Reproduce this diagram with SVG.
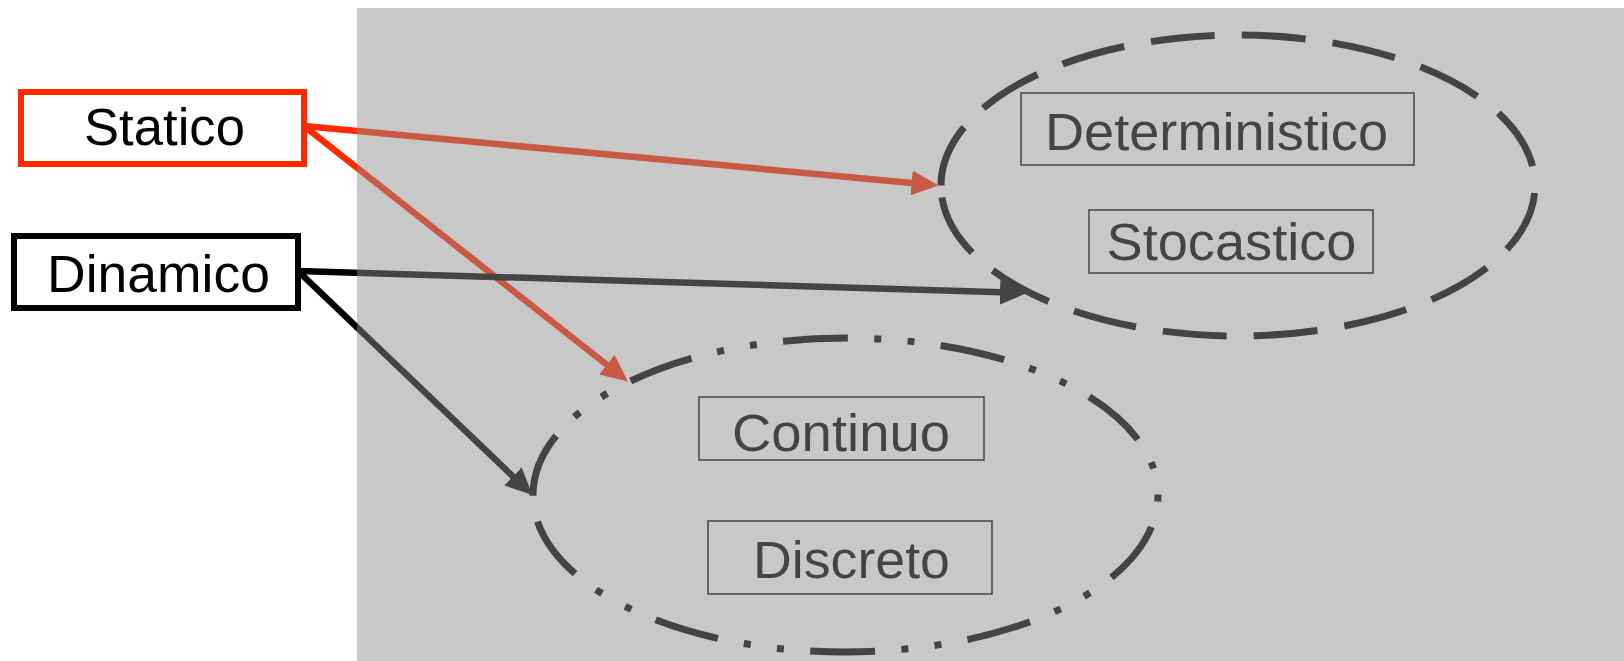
<svg xmlns="http://www.w3.org/2000/svg" width="1624" height="661" viewBox="0 0 1624 661">
  <style>
    .label { font-family: "Liberation Sans", Arial, sans-serif; font-size: 51px; text-anchor: middle; fill: #000; }
    .outer-box { fill: #fff; stroke-width: 6; }
    .inner-box { fill: none; stroke: #000; stroke-width: 1.5; }
    .group-ring { fill: none; stroke: #000; stroke-width: 7; stroke-linecap: butt; }
    .link { fill: none; stroke-width: 6.5; }
    .link-red { stroke: #ff2a00; }
    .link-black { stroke: #000; }
  </style>
  <defs>
    <marker id="head-red" markerUnits="userSpaceOnUse" markerWidth="27" markerHeight="25" refX="19" refY="12.5" orient="auto">
      <path d="M0,0 L27,12.5 L0,25 Z" fill="#ff2a00"/>
    </marker>
    <marker id="head-black" markerUnits="userSpaceOnUse" markerWidth="27" markerHeight="25" refX="19" refY="12.5" orient="auto">
      <path d="M0,0 L27,12.5 L0,25 Z" fill="#000"/>
    </marker>
  </defs>

  <rect x="0" y="0" width="1624" height="661" fill="#fff"/>

  <!-- connectors -->
  <g id="connectors">
    <line class="link link-red" x1="304" y1="126" x2="930.5" y2="184.7" marker-end="url(#head-red)"/>
    <line class="link link-red" x1="304" y1="126" x2="621.7" y2="376.5" marker-end="url(#head-red)"/>
    <line class="link link-black" x1="298" y1="271" x2="1019" y2="292.8" marker-end="url(#head-black)"/>
    <line class="link link-black" x1="298" y1="271" x2="526.7" y2="489.5" marker-end="url(#head-black)"/>
  </g>

  <!-- source nodes -->
  <g id="node-statico">
    <rect class="outer-box" x="21" y="92" width="283" height="72" stroke="#ff2a00"/>
    <text class="label" x="164.5" y="145" textLength="161" lengthAdjust="spacingAndGlyphs">Statico</text>
  </g>
  <g id="node-dinamico">
    <rect class="outer-box" x="14" y="236" width="284" height="72" stroke="#000"/>
    <text class="label" x="158.5" y="292" textLength="223" lengthAdjust="spacingAndGlyphs">Dinamico</text>
  </g>

  <!-- dashed group: Deterministico / Stocastico -->
  <g id="group-determinism">
    <path class="group-ring" pathLength="1444" stroke-dasharray="64 27.2"
          d="M941,185.5 A297,150.5 0 0 1 1535,185.5 A297,150.5 0 0 1 941,185.5"/>
  </g>
  <g id="node-deterministico">
    <rect class="inner-box" x="1021" y="93" width="393" height="72"/>
    <text class="label" x="1216.5" y="150" textLength="343" lengthAdjust="spacingAndGlyphs">Deterministico</text>
  </g>
  <g id="node-stocastico">
    <rect class="inner-box" x="1089" y="210" width="284" height="63"/>
    <text class="label" x="1231.5" y="260" textLength="250" lengthAdjust="spacingAndGlyphs">Stocastico</text>
  </g>

  <!-- dash-dot-dot group: Continuo / Discreto -->
  <g id="group-continuity">
    <path class="group-ring" pathLength="1516" stroke-dasharray="65 26.4 7 26.4 7 26.4"
          d="M533,495 A312.5,157 0 0 1 1158,495 A312.5,157 0 0 1 533,495"/>
  </g>
  <g id="node-continuo">
    <rect class="inner-box" x="699" y="397" width="285" height="63"/>
    <text class="label" x="841" y="451" textLength="218" lengthAdjust="spacingAndGlyphs">Continuo</text>
  </g>
  <g id="node-discreto">
    <rect class="inner-box" x="708" y="521" width="284" height="73"/>
    <text class="label" x="851.5" y="578" textLength="197" lengthAdjust="spacingAndGlyphs">Discreto</text>
  </g>

  <!-- translucent grey panel laid over the right-hand area -->
  <rect id="panel" x="357" y="8" width="1267" height="653" fill="rgb(141,141,141)" fill-opacity="0.482"/>
</svg>
